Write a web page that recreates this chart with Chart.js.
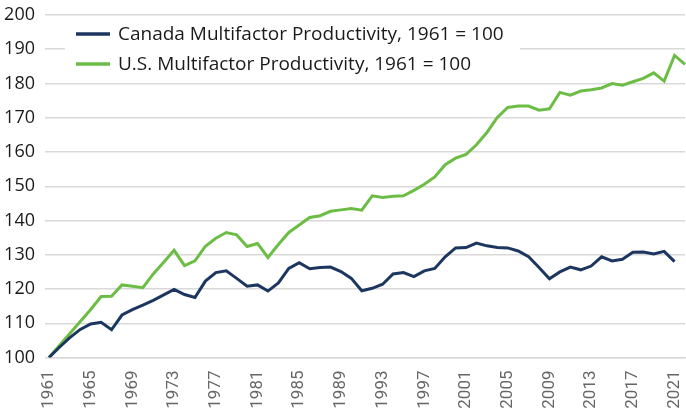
<!DOCTYPE html>
<html>
<head>
<meta charset="utf-8">
<script src="https://cdn.jsdelivr.net/npm/chart.js@4"></script>
<style>
  html, body { margin: 0; padding: 0; background: #fff; }
  #wrap { width: 686px; height: 414px; }
</style>
</head>
<body>
<div id="wrap"><canvas id="chart"></canvas></div>
<script>
// Years on the category axis
const years = [];
for (let y = 1961; y <= 2022; y++) years.push(String(y));

// Multifactor productivity, 1961 = 100
const canadaMfp = [
  100, 103, 105.8, 108.2, 109.8, 110.3, 108.1, 112.4, 114, 115.3,
  116.7, 118.3, 119.9, 118.4, 117.5, 122.3, 124.8, 125.3, 123.1, 120.8,
  121.2, 119.4, 121.8, 126.0, 127.7, 125.9, 126.3, 126.4, 125.1, 123.1,
  119.5, 120.2, 121.4, 124.4, 124.8, 123.6, 125.3, 126.0, 129.4, 132.0,
  132.1, 133.4, 132.6, 132.1, 132.0, 131.1, 129.4, 126.3, 123.0, 125.0,
  126.4, 125.6, 126.7, 129.4, 128.2, 128.7, 130.7, 130.8, 130.2, 131.0,
  128.0, null
];
const usMfp = [
  100, 103.5, 107, 110.5, 114, 117.8, 117.9, 121.2, 120.8, 120.4,
  124.4, 127.8, 131.3, 126.8, 128.2, 132.5, 134.8, 136.5, 135.8, 132.4,
  133.3, 129.2, 133.0, 136.5, 138.7, 140.9, 141.4, 142.7, 143.1, 143.5,
  143.0, 147.2, 146.7, 147.1, 147.2, 148.8, 150.6, 152.7, 156.3, 158.2,
  159.3, 162.1, 165.7, 170.1, 173.0, 173.4, 173.4, 172.2, 172.6, 177.4,
  176.6, 177.8, 178.2, 178.7, 180.0, 179.5, 180.5, 181.5, 183.1, 180.7,
  188.2, 185.6
];
const seriesNames = [
  'Canada Multifactor Productivity, 1961 = 100',
  'U.S. Multifactor Productivity, 1961 = 100'
];

const navy = '#1c365f';
const green = '#6cbd45';
const gridGrey = '#d9d9d9';

// Legend sits inside the plot on a white box (covers the 190 gridline)
const insideLegend = {
  id: 'insideLegend',
  beforeDatasetsDraw(chart) {
    const ctx = chart.ctx;
    ctx.save();
    ctx.fillStyle = '#fff';
    ctx.fillRect(65, 20, 455, 58);
    ctx.font = '19px "Open Sans"';
    ctx.textBaseline = 'middle';
    chart.data.datasets.forEach((ds, i) => {
      const y = 34 + i * 30;
      ctx.strokeStyle = ds.borderColor;
      ctx.lineWidth = 3.5;
      ctx.beginPath();
      ctx.moveTo(76, y);
      ctx.lineTo(110, y);
      ctx.stroke();
      ctx.fillStyle = '#1a1a1a';
      ctx.fillText(ds.label, 118, y + 1);
    });
    ctx.restore();
  }
};

new Chart(document.getElementById('chart'), {
  type: 'line',
  data: {
    labels: years,
    datasets: [{
      label: seriesNames[0],
      data: canadaMfp,
      borderColor: navy,
      borderWidth: 3,
      pointRadius: 0,
      tension: 0
    }, {
      label: seriesNames[1],
      data: usMfp,
      borderColor: green,
      borderWidth: 3,
      pointRadius: 0,
      tension: 0
    }]
  },
  options: {
    responsive: true,
    maintainAspectRatio: false,
    animation: false,
    layout: { padding: { top: 15, right: 1, left: 0, bottom: 0 } },
    plugins: {
      legend: { display: false },
      tooltip: { enabled: false }
    },
    scales: {
      x: {
        offset: false,
        grid: { display: false },
        border: { color: gridGrey, width: 1.5 },
        ticks: {
          autoSkip: false,
          minRotation: 90,
          maxRotation: 90,
          padding: 5,
          font: { family: 'Roboto', size: 17 },
          callback: function (value, index) {
            return index % 4 === 0 ? this.getLabelForValue(value) : '';
          }
        },
        afterFit(scale) {
          scale.height = 56.5;
          scale.paddingLeft = 0;
          scale.paddingRight = 0;
        }
      },
      y: {
        min: 100,
        max: 200,
        border: { display: false },
        grid: { color: gridGrey, lineWidth: 1.5, tickLength: 4 },
        ticks: {
          stepSize: 10,
          padding: 10,
          color: '#1a1a1a',
          font: { family: 'Open Sans', size: 18 }
        },
        afterFit(scale) {
          scale.width = 49;
          scale.paddingTop = 0;
          scale.paddingBottom = 0;
        }
      }
    }
  },
  plugins: [insideLegend]
});
</script>
</body>
</html>
